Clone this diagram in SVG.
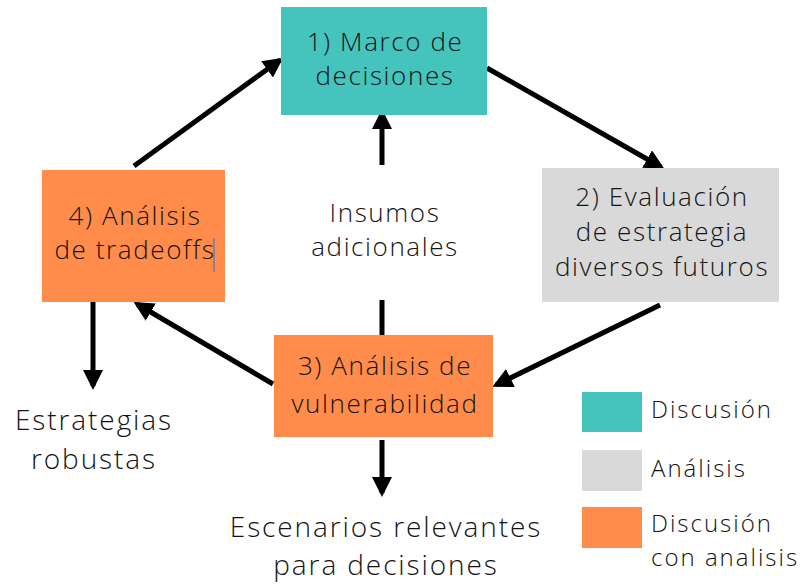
<svg xmlns="http://www.w3.org/2000/svg" width="807" height="587" viewBox="0 0 807 587">
<style>
text{font-family:"Open Sans","Liberation Sans",sans-serif;font-weight:300;fill:#141414;font-size:26px;letter-spacing:1.6px;text-anchor:middle}
.b{font-size:28px;letter-spacing:1.9px}
.l{text-anchor:start;font-size:24px;letter-spacing:2px}
.teal{fill:#45C4BD}.gray{fill:#D9D9D9}.org{fill:#FF8C4A}
.c line{stroke:#000;stroke-width:5}
</style>
<defs>
<marker id="ah" viewBox="0 0 10 10" refX="8" refY="5" markerWidth="4" markerHeight="4" markerUnits="strokeWidth" orient="auto">
<path d="M0,0 L10,5 L0,10 z" fill="#000"/>
</marker>
</defs>
<rect width="807" height="587" fill="#fff"/>
<g class="c">
<line x1="134" y1="166" x2="280" y2="60" marker-end="url(#ah)"/>
<line x1="487" y1="68" x2="661" y2="167" marker-end="url(#ah)"/>
<line x1="660" y1="305" x2="496" y2="385" marker-end="url(#ah)"/>
<line x1="273" y1="384" x2="137" y2="304" marker-end="url(#ah)"/>
<line x1="382" y1="165" x2="382" y2="113" marker-end="url(#ah)"/>
<line x1="382" y1="300" x2="382" y2="335"/>
<line x1="382" y1="440" x2="382" y2="493" marker-end="url(#ah)"/>
<line x1="93" y1="302" x2="93" y2="386" marker-end="url(#ah)"/>
</g>
<g id="n1"><rect class="teal" x="281" y="7" width="206" height="108"/><text x="385" y="51">1) Marco de</text><text x="385" y="85">decisiones</text></g>
<g id="n2"><rect class="gray" x="542" y="168" width="237" height="134"/><text x="662" y="206">2) Evaluación</text><text x="662" y="241">de estrategia</text><text x="662" y="276">diversos futuros</text></g>
<g id="n3"><rect class="org" x="274" y="335" width="219" height="102"/><text x="385" y="375">3) Análisis de</text><text x="385" y="413">vulnerabilidad</text></g>
<g id="n4"><rect class="org" x="42" y="170" width="183" height="132"/><text x="135" y="225">4) Análisis</text><text x="135" y="259">de tradeoffs</text><line x1="214" y1="238" x2="214" y2="272" stroke="#2a6fd1" stroke-width="1"/></g>
<g id="t1"><text x="385" y="222">Insumos</text><text x="385" y="256">adicionales</text></g>
<g id="t2"><text class="b" x="94" y="430">Estrategias</text><text class="b" x="94" y="469">robustas</text></g>
<g id="t3"><text class="b" x="386" y="537">Escenarios relevantes</text><text class="b" x="386" y="575">para decisiones</text></g>
<g id="legend">
<rect class="teal" x="582" y="392" width="60" height="40"/><text class="l" x="651" y="418">Discusión</text>
<rect class="gray" x="582" y="450" width="60" height="41"/><text class="l" x="651" y="477">Análisis</text>
<rect class="org" x="582" y="507" width="60" height="41"/><text class="l" x="651" y="532">Discusión</text><text class="l" x="651" y="566">con analisis</text>
</g>
</svg>
